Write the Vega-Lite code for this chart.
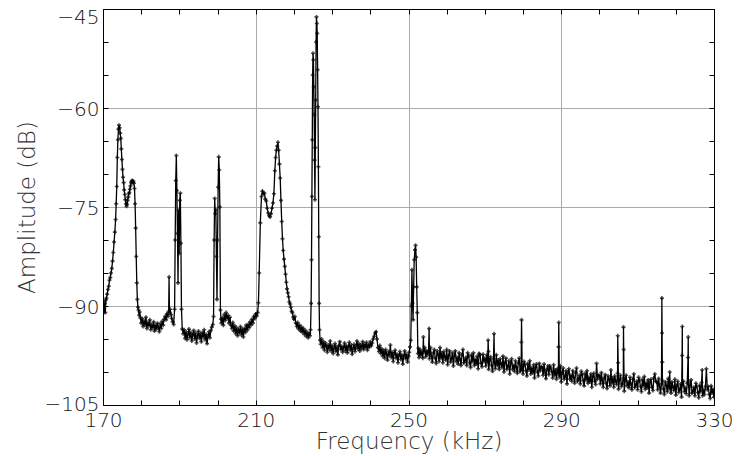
{
  "$schema": "https://vega.github.io/schema/vega-lite/v6.json",
  "width": 611,
  "height": 396,
  "autosize": "none",
  "padding": {"left": 103, "top": 9, "right": 23, "bottom": 51},
  "background": "white",
  "config": {
    "view": {"stroke": "#000", "strokeWidth": 1},
    "axis": {
      "labelFont": "DejaVu Sans",
      "labelFontWeight": 200,
      "labelFontSize": 20,
      "labelColor": "#111",
      "labelFlush": false,
      "titleFont": "DejaVu Sans",
      "titleFontWeight": 200,
      "titleFontSize": 23,
      "titleColor": "#333",
      "tickColor": "#000",
      "domainColor": "#000",
      "tickSize": -5,
      "labelOverlap": false
    }
  },
  "data": {"values": [
    {"f":170.0,"a":-90.6},{"f":170.15,"a":-89.2},{"f":170.3,"a":-90.9},{"f":170.45,"a":-89.6},{"f":170.6,"a":-91.0},{"f":170.75,"a":-89.1},{"f":170.9,"a":-88.8},{"f":171.1,"a":-88.2},{"f":171.3,"a":-87.5},{"f":171.5,"a":-87.0},{"f":171.7,"a":-86.1},{"f":171.9,"a":-85.7},{"f":172.1,"a":-85.0},{"f":172.3,"a":-84.3},{"f":172.5,"a":-83.2},{"f":172.7,"a":-81.9},{"f":172.9,"a":-80.3},{"f":173.1,"a":-78.8},{"f":173.3,"a":-76.9},{"f":173.45,"a":-74.5},{"f":173.6,"a":-71.9},{"f":173.75,"a":-67.5},{"f":173.9,"a":-64.8},{"f":174.05,"a":-63.2},{"f":174.2,"a":-62.6},{"f":174.35,"a":-63.0},{"f":174.5,"a":-63.8},{"f":174.65,"a":-64.6},{"f":174.8,"a":-66.2},{"f":174.95,"a":-67.8},{"f":175.1,"a":-69.3},{"f":175.25,"a":-70.5},{"f":175.4,"a":-71.3},{"f":175.55,"a":-72.4},{"f":175.7,"a":-73.1},{"f":175.85,"a":-73.9},{"f":176.0,"a":-74.5},{"f":176.15,"a":-74.9},{"f":176.3,"a":-74.6},{"f":176.45,"a":-74.0},{"f":176.6,"a":-73.5},{"f":176.75,"a":-73.0},{"f":176.9,"a":-72.8},{"f":177.05,"a":-72.3},{"f":177.2,"a":-71.8},{"f":177.35,"a":-71.3},{"f":177.5,"a":-71.1},{"f":177.65,"a":-71.0},{"f":177.8,"a":-71.3},{"f":177.95,"a":-71.1},{"f":178.1,"a":-71.4},{"f":178.25,"a":-72.2},{"f":178.4,"a":-74.5},{"f":178.55,"a":-78.2},{"f":178.7,"a":-82.5},{"f":178.85,"a":-86.5},{"f":179.0,"a":-89.0},{"f":179.15,"a":-90.2},{"f":179.3,"a":-90.6},{"f":179.45,"a":-91.4},{"f":179.6,"a":-90.9},
    {"f":179.8,"a":-91.8},{"f":180.0,"a":-92.6},{"f":180.25,"a":-91.9},{"f":180.5,"a":-93.1},{"f":180.75,"a":-92.2},{"f":181.0,"a":-92.9},{"f":181.25,"a":-91.7},{"f":181.5,"a":-93.4},{"f":181.75,"a":-92.5},{"f":182.0,"a":-93.0},{"f":182.25,"a":-92.1},{"f":182.5,"a":-93.6},{"f":182.75,"a":-92.8},{"f":183.0,"a":-93.3},{"f":183.25,"a":-92.4},{"f":183.5,"a":-93.8},{"f":183.75,"a":-92.9},{"f":184.0,"a":-93.5},{"f":184.25,"a":-92.6},{"f":184.5,"a":-93.2},{"f":184.75,"a":-93.9},{"f":185.0,"a":-92.7},{"f":185.25,"a":-93.4},{"f":185.5,"a":-92.3},{"f":185.75,"a":-92.9},{"f":186.0,"a":-92.0},{"f":186.25,"a":-91.6},{"f":186.5,"a":-92.1},{"f":186.75,"a":-91.2},{"f":187.0,"a":-91.6},{"f":187.2,"a":-90.8},{"f":187.3,"a":-85.6},{"f":187.4,"a":-91.0},{"f":187.6,"a":-90.5},{"f":187.8,"a":-91.3},{"f":188.0,"a":-91.9},{"f":188.25,"a":-92.4},{"f":188.5,"a":-92.8},
    {"f":188.75,"a":-90.5},{"f":188.9,"a":-80.0},{"f":189.05,"a":-71.0},{"f":189.2,"a":-67.2},{"f":189.35,"a":-72.5},{"f":189.5,"a":-79.0},{"f":189.65,"a":-86.5},{"f":189.8,"a":-75.5},{"f":189.95,"a":-82.0},{"f":190.1,"a":-74.0},{"f":190.25,"a":-72.9},{"f":190.4,"a":-80.5},{"f":190.55,"a":-90.5},{"f":190.75,"a":-93.5},
    {"f":191.0,"a":-94.2},{"f":191.25,"a":-93.6},{"f":191.5,"a":-94.9},{"f":191.75,"a":-93.9},{"f":192.0,"a":-95.1},{"f":192.25,"a":-94.3},{"f":192.5,"a":-93.5},{"f":192.75,"a":-94.8},{"f":193.0,"a":-94.0},{"f":193.25,"a":-95.3},{"f":193.5,"a":-94.4},{"f":193.75,"a":-93.7},{"f":194.0,"a":-95.0},{"f":194.25,"a":-94.1},{"f":194.5,"a":-95.6},{"f":194.75,"a":-94.5},{"f":195.0,"a":-93.8},{"f":195.25,"a":-94.9},{"f":195.5,"a":-94.2},{"f":195.75,"a":-95.4},{"f":196.0,"a":-94.0},{"f":196.25,"a":-94.7},{"f":196.5,"a":-93.6},{"f":196.75,"a":-95.1},{"f":197.0,"a":-94.3},{"f":197.25,"a":-95.7},{"f":197.5,"a":-94.6},{"f":197.75,"a":-93.9},{"f":198.0,"a":-94.8},{"f":198.25,"a":-93.7},{"f":198.5,"a":-93.2},{"f":198.75,"a":-92.8},
    {"f":198.95,"a":-91.6},{"f":199.1,"a":-80.0},{"f":199.25,"a":-73.7},{"f":199.4,"a":-76.0},{"f":199.55,"a":-75.4},{"f":199.7,"a":-82.5},{"f":199.85,"a":-89.0},{"f":200.0,"a":-80.0},{"f":200.15,"a":-72.0},{"f":200.3,"a":-67.4},{"f":200.45,"a":-69.4},{"f":200.6,"a":-75.0},{"f":200.75,"a":-90.6},{"f":200.9,"a":-92.0},
    {"f":201.0,"a":-92.6},{"f":201.25,"a":-91.8},{"f":201.5,"a":-92.9},{"f":201.75,"a":-91.3},{"f":202.0,"a":-92.2},{"f":202.25,"a":-91.0},{"f":202.5,"a":-91.9},{"f":202.75,"a":-91.4},{"f":203.0,"a":-92.6},{"f":203.25,"a":-91.7},{"f":203.5,"a":-92.9},{"f":203.75,"a":-93.4},{"f":204.0,"a":-92.5},{"f":204.25,"a":-93.8},{"f":204.5,"a":-93.0},{"f":204.75,"a":-94.2},{"f":205.0,"a":-93.3},{"f":205.25,"a":-94.5},{"f":205.5,"a":-93.6},{"f":205.75,"a":-94.0},{"f":206.0,"a":-93.1},{"f":206.25,"a":-94.4},{"f":206.5,"a":-93.5},{"f":206.75,"a":-94.7},{"f":207.0,"a":-93.4},{"f":207.25,"a":-94.0},{"f":207.5,"a":-92.9},{"f":207.75,"a":-93.7},{"f":208.0,"a":-92.8},{"f":208.25,"a":-93.3},{"f":208.5,"a":-92.4},{"f":208.75,"a":-92.9},{"f":209.0,"a":-92.0},{"f":209.25,"a":-92.6},{"f":209.5,"a":-91.6},{"f":209.75,"a":-91.9},{"f":210.0,"a":-91.2},{"f":210.25,"a":-91.5},{"f":210.5,"a":-91.0},{"f":210.7,"a":-89.5},
    {"f":210.9,"a":-85.0},{"f":211.2,"a":-77.4},{"f":211.5,"a":-73.4},{"f":211.75,"a":-72.6},{"f":212.0,"a":-73.0},{"f":212.25,"a":-72.9},{"f":212.5,"a":-73.8},{"f":212.75,"a":-74.1},{"f":213.0,"a":-75.2},{"f":213.25,"a":-75.9},{"f":213.5,"a":-76.3},{"f":213.75,"a":-76.5},{"f":214.0,"a":-76.0},{"f":214.25,"a":-75.2},{"f":214.5,"a":-74.4},{"f":214.75,"a":-73.0},{"f":215.0,"a":-69.5},{"f":215.2,"a":-67.5},{"f":215.4,"a":-66.4},{"f":215.6,"a":-65.8},{"f":215.8,"a":-65.2},{"f":216.0,"a":-66.4},{"f":216.2,"a":-68.5},{"f":216.4,"a":-70.6},{"f":216.6,"a":-74.0},{"f":216.8,"a":-77.2},{"f":217.0,"a":-79.8},{"f":217.2,"a":-81.6},{"f":217.4,"a":-82.9},{"f":217.6,"a":-84.0},{"f":217.8,"a":-85.2},{"f":218.0,"a":-86.4},{"f":218.2,"a":-87.4},{"f":218.4,"a":-88.0},{"f":218.6,"a":-88.6},{"f":218.8,"a":-89.4},{"f":219.0,"a":-89.7},{"f":219.2,"a":-90.2},{"f":219.4,"a":-90.8},{"f":219.6,"a":-91.0},{"f":219.8,"a":-91.7},{"f":220.0,"a":-92.0},{"f":220.25,"a":-91.6},{"f":220.5,"a":-92.6},{"f":220.75,"a":-93.1},{"f":221.0,"a":-92.5},{"f":221.25,"a":-93.5},{"f":221.5,"a":-92.9},{"f":221.75,"a":-93.8},{"f":222.0,"a":-93.2},{"f":222.25,"a":-94.0},{"f":222.5,"a":-93.4},{"f":222.75,"a":-94.3},{"f":223.0,"a":-93.7},{"f":223.25,"a":-94.6},{"f":223.5,"a":-94.0},{"f":223.75,"a":-94.8},{"f":224.0,"a":-94.2},{"f":224.2,"a":-94.5},{"f":224.35,"a":-93.6},
    {"f":224.5,"a":-89.6},{"f":224.6,"a":-83.0},{"f":224.7,"a":-73.4},{"f":224.8,"a":-64.8},{"f":224.9,"a":-55.0},{"f":225.0,"a":-51.7},{"f":225.1,"a":-52.7},{"f":225.2,"a":-56.8},{"f":225.3,"a":-61.0},{"f":225.4,"a":-67.9},{"f":225.5,"a":-73.9},{"f":225.6,"a":-66.0},{"f":225.7,"a":-58.8},{"f":225.8,"a":-50.0},{"f":225.9,"a":-46.2},{"f":226.0,"a":-47.2},{"f":226.1,"a":-48.7},{"f":226.2,"a":-54.2},{"f":226.3,"a":-59.8},{"f":226.4,"a":-68.9},{"f":226.5,"a":-79.5},{"f":226.6,"a":-89.6},{"f":226.7,"a":-93.6},{"f":226.85,"a":-95.2},
    {"f":227.0,"a":-95.8},{"f":227.25,"a":-95.0},{"f":227.5,"a":-96.3},{"f":227.75,"a":-95.4},{"f":228.0,"a":-96.7},{"f":228.25,"a":-95.6},{"f":228.5,"a":-96.1},{"f":228.75,"a":-97.0},{"f":229.0,"a":-95.9},{"f":229.25,"a":-96.5},{"f":229.5,"a":-95.3},{"f":229.75,"a":-96.8},{"f":230.0,"a":-96.0},{"f":230.25,"a":-97.2},{"f":230.5,"a":-96.4},{"f":230.75,"a":-95.7},{"f":231.0,"a":-96.9},{"f":231.25,"a":-96.2},{"f":231.5,"a":-97.4},{"f":231.75,"a":-96.0},{"f":232.0,"a":-95.4},{"f":232.25,"a":-96.6},{"f":232.5,"a":-96.1},{"f":232.75,"a":-97.0},{"f":233.0,"a":-96.3},{"f":233.25,"a":-95.6},{"f":233.5,"a":-96.8},{"f":233.75,"a":-96.0},{"f":234.0,"a":-97.1},{"f":234.25,"a":-96.2},{"f":234.5,"a":-95.5},{"f":234.75,"a":-96.7},{"f":235.0,"a":-95.9},{"f":235.25,"a":-97.3},{"f":235.5,"a":-96.4},{"f":235.75,"a":-95.8},{"f":236.0,"a":-96.9},{"f":236.25,"a":-96.1},{"f":236.5,"a":-95.3},{"f":236.75,"a":-96.5},{"f":237.0,"a":-95.7},{"f":237.25,"a":-96.8},{"f":237.5,"a":-95.9},{"f":237.75,"a":-96.4},{"f":238.0,"a":-95.4},{"f":238.25,"a":-96.6},{"f":238.5,"a":-95.8},{"f":238.75,"a":-96.3},{"f":239.0,"a":-95.5},{"f":239.25,"a":-96.7},{"f":239.5,"a":-95.9},{"f":239.75,"a":-96.2},{"f":240.0,"a":-95.4},{"f":240.25,"a":-96.0},{"f":240.5,"a":-95.6},{"f":240.75,"a":-95.0},{"f":241.0,"a":-94.6},{"f":241.25,"a":-94.1},{"f":241.5,"a":-93.9},{"f":241.75,"a":-95.0},{"f":242.0,"a":-96.3},{"f":242.25,"a":-96.9},{"f":242.5,"a":-96.0},{"f":242.75,"a":-97.2},{"f":243.0,"a":-96.5},{"f":243.25,"a":-97.6},{"f":243.5,"a":-96.8},{"f":243.75,"a":-97.9},{"f":244.0,"a":-96.6},{"f":244.25,"a":-97.3},{"f":244.5,"a":-98.2},{"f":244.75,"a":-96.9},{"f":245.0,"a":-97.5},{"f":245.25,"a":-95.9},{"f":245.5,"a":-97.8},{"f":245.75,"a":-97.0},{"f":246.0,"a":-98.4},{"f":246.25,"a":-97.2},{"f":246.5,"a":-96.7},{"f":246.75,"a":-97.9},{"f":247.0,"a":-97.3},{"f":247.25,"a":-98.6},{"f":247.5,"a":-97.5},{"f":247.75,"a":-96.9},{"f":248.0,"a":-98.1},{"f":248.25,"a":-97.4},{"f":248.5,"a":-98.8},{"f":248.75,"a":-97.6},{"f":249.0,"a":-96.8},{"f":249.25,"a":-98.0},{"f":249.5,"a":-97.3},{"f":249.75,"a":-98.5},{"f":250.0,"a":-97.6},{"f":250.2,"a":-97.0},
    {"f":250.4,"a":-96.2},{"f":250.6,"a":-95.2},{"f":250.75,"a":-90.0},{"f":250.9,"a":-84.5},{"f":251.05,"a":-89.6},{"f":251.2,"a":-92.1},{"f":251.35,"a":-87.1},{"f":251.5,"a":-83.0},{"f":251.7,"a":-81.5},{"f":251.85,"a":-80.8},{"f":252.0,"a":-82.6},{"f":252.15,"a":-87.1},{"f":252.3,"a":-91.0},{"f":252.45,"a":-97.2},
    {"f":252.6,"a":-96.4},{"f":252.75,"a":-97.8},{"f":253.0,"a":-96.6},{"f":253.25,"a":-97.5},{"f":253.5,"a":-96.9},{"f":253.75,"a":-97.9},{"f":253.9,"a":-94.7},{"f":254.0,"a":-97.0},{"f":254.25,"a":-96.3},{"f":254.5,"a":-97.7},{"f":254.75,"a":-96.8},{"f":255.0,"a":-97.4},{"f":255.25,"a":-96.8},{"f":255.4,"a":-93.4},{"f":255.5,"a":-98.0},{"f":255.75,"a":-96.3},
    {"f":256.0,"a":-97.6},{"f":256.25,"a":-98.5},{"f":256.5,"a":-97.1},{"f":256.75,"a":-96.6},{"f":257.0,"a":-97.9},{"f":257.25,"a":-98.7},{"f":257.5,"a":-96.8},{"f":257.75,"a":-97.3},{"f":258.0,"a":-98.4},{"f":258.25,"a":-96.3},{"f":258.5,"a":-97.9},{"f":258.75,"a":-97.1},{"f":259.0,"a":-98.6},{"f":259.25,"a":-96.9},{"f":259.5,"a":-97.7},{"f":259.75,"a":-98.2},{"f":260.0,"a":-96.6},{"f":260.25,"a":-98.9},{"f":260.5,"a":-97.5},{"f":260.75,"a":-96.8},{"f":261.0,"a":-98.5},{"f":261.25,"a":-98.0},{"f":261.5,"a":-97.1},{"f":261.75,"a":-99.1},{"f":262.0,"a":-97.5},{"f":262.25,"a":-96.8},{"f":262.5,"a":-98.4},{"f":262.75,"a":-97.8},{"f":263.0,"a":-98.8},{"f":263.25,"a":-97.1},{"f":263.5,"a":-98.1},{"f":263.75,"a":-99.0},{"f":264.0,"a":-97.4},{"f":264.25,"a":-96.6},{"f":264.5,"a":-98.6},{"f":264.75,"a":-98.3},{"f":265.0,"a":-97.8},{"f":265.25,"a":-99.0},{"f":265.5,"a":-97.1},{"f":265.75,"a":-97.6},{"f":266.0,"a":-98.6},{"f":266.25,"a":-99.3},{"f":266.5,"a":-97.4},{"f":266.75,"a":-98.4},{"f":267.0,"a":-97.1},{"f":267.25,"a":-99.0},{"f":267.5,"a":-98.1},{"f":267.75,"a":-98.8},{"f":268.0,"a":-97.6},{"f":268.25,"a":-99.5},{"f":268.5,"a":-97.2},{"f":268.75,"a":-97.4},{"f":269.0,"a":-98.7},{"f":269.25,"a":-99.2},{"f":269.5,"a":-97.3},{"f":269.75,"a":-98.4},{"f":270.0,"a":-97.9},{"f":270.25,"a":-99.1},{"f":270.5,"a":-97.4},{"f":270.75,"a":-98.6},{"f":270.85,"a":-95.2},{"f":270.95,"a":-96.9},{"f":271.0,"a":-99.6},{"f":271.25,"a":-98.2},{"f":271.5,"a":-97.7},{"f":271.75,"a":-99.0},{"f":272.0,"a":-99.9},{"f":272.25,"a":-98.0},{"f":272.4,"a":-94.2},{"f":272.5,"a":-98.5},{"f":272.75,"a":-99.5},{"f":273.0,"a":-97.4},{"f":273.25,"a":-99.0},{"f":273.5,"a":-98.2},{"f":273.75,"a":-99.6},{"f":274.0,"a":-98.0},{"f":274.25,"a":-98.8},{"f":274.5,"a":-99.3},{"f":274.75,"a":-97.6},{"f":275.0,"a":-100.0},{"f":275.25,"a":-98.6},{"f":275.5,"a":-97.9},{"f":275.75,"a":-99.6},{"f":276.0,"a":-99.2},{"f":276.25,"a":-98.3},{"f":276.5,"a":-100.3},{"f":276.75,"a":-98.6},{"f":277.0,"a":-98.0},{"f":277.25,"a":-99.6},{"f":277.5,"a":-99.0},{"f":277.75,"a":-99.9},{"f":278.0,"a":-98.3},{"f":278.25,"a":-99.3},{"f":278.5,"a":-100.2},{"f":278.75,"a":-98.6},{"f":279.0,"a":-97.9},{"f":279.25,"a":-99.9},{"f":279.5,"a":-99.6},{"f":279.55,"a":-95.5},{"f":279.6,"a":-92.1},{"f":279.75,"a":-99.0},{"f":280.0,"a":-100.3},{"f":280.25,"a":-98.4},{"f":280.5,"a":-98.9},{"f":280.75,"a":-99.8},{"f":281.0,"a":-100.6},{"f":281.25,"a":-98.7},{"f":281.5,"a":-99.7},{"f":281.75,"a":-98.3},{"f":282.0,"a":-100.3},{"f":282.25,"a":-99.4},{"f":282.5,"a":-100.1},{"f":282.75,"a":-98.9},{"f":283.0,"a":-100.9},{"f":283.25,"a":-99.3},{"f":283.5,"a":-98.8},{"f":283.75,"a":-100.0},{"f":284.0,"a":-100.6},{"f":284.25,"a":-98.7},{"f":284.5,"a":-99.8},{"f":284.75,"a":-99.2},{"f":285.0,"a":-99.3},{"f":285.25,"a":-100.5},{"f":285.5,"a":-98.8},{"f":285.75,"a":-100.0},{"f":286.0,"a":-101.0},{"f":286.25,"a":-99.6},{"f":286.5,"a":-99.1},{"f":286.75,"a":-100.4},{"f":287.0,"a":-99.1},{"f":287.25,"a":-99.4},{"f":287.5,"a":-99.9},{"f":287.75,"a":-100.9},{"f":288.0,"a":-98.9},{"f":288.25,"a":-100.5},{"f":288.5,"a":-99.7},{"f":288.75,"a":-101.1},{"f":289.0,"a":-99.5},{"f":289.25,"a":-100.3},{"f":289.3,"a":-96.2},{"f":289.35,"a":-92.5},{"f":289.5,"a":-100.8},{"f":289.75,"a":-99.1},{"f":290.0,"a":-101.5},{"f":290.25,"a":-100.1},{"f":290.5,"a":-99.4},{"f":290.75,"a":-101.1},{"f":291.0,"a":-100.7},{"f":291.25,"a":-99.8},{"f":291.5,"a":-101.8},{"f":291.75,"a":-100.1},{"f":292.0,"a":-99.5},{"f":292.25,"a":-101.1},{"f":292.5,"a":-100.5},{"f":292.75,"a":-101.4},{"f":293.0,"a":-99.8},{"f":293.25,"a":-100.8},{"f":293.5,"a":-101.7},{"f":293.75,"a":-100.1},{"f":294.0,"a":-99.4},{"f":294.25,"a":-101.4},{"f":294.5,"a":-101.1},{"f":294.75,"a":-100.5},{"f":295.0,"a":-101.8},{"f":295.25,"a":-99.9},{"f":295.5,"a":-100.4},{"f":295.75,"a":-101.3},{"f":296.0,"a":-102.1},{"f":296.25,"a":-100.2},{"f":296.5,"a":-101.2},{"f":296.75,"a":-99.8},{"f":297.0,"a":-101.7},{"f":297.25,"a":-100.8},{"f":297.5,"a":-101.5},{"f":297.75,"a":-100.3},{"f":298.0,"a":-102.3},{"f":298.25,"a":-100.7},{"f":298.5,"a":-100.2},{"f":298.75,"a":-101.4},{"f":299.0,"a":-101.9},{"f":299.25,"a":-98.7},{"f":299.5,"a":-101.1},{"f":299.75,"a":-100.5},{"f":300.0,"a":-100.6},{"f":300.25,"a":-101.8},{"f":300.5,"a":-100.1},{"f":300.75,"a":-101.3},{"f":301.0,"a":-102.3},{"f":301.25,"a":-100.9},{"f":301.5,"a":-100.4},{"f":301.75,"a":-101.7},{"f":302.0,"a":-102.5},{"f":302.25,"a":-100.6},{"f":302.5,"a":-101.1},{"f":302.75,"a":-102.1},{"f":303.0,"a":-99.7},{"f":303.25,"a":-101.7},{"f":303.5,"a":-100.9},{"f":303.75,"a":-102.3},{"f":304.0,"a":-100.6},{"f":304.25,"a":-101.4},{"f":304.5,"a":-101.9},{"f":304.75,"a":-100.2},{"f":304.8,"a":-94.5},{"f":304.9,"a":-98.6},{"f":305.0,"a":-102.6},{"f":305.25,"a":-101.2},{"f":305.5,"a":-100.5},{"f":305.75,"a":-102.2},{"f":306.0,"a":-101.8},{"f":306.25,"a":-100.9},{"f":306.3,"a":-93.2},{"f":306.35,"a":-96.6},{"f":306.5,"a":-102.9},{"f":306.75,"a":-101.2},{"f":307.0,"a":-100.5},{"f":307.25,"a":-102.1},{"f":307.5,"a":-101.5},{"f":307.75,"a":-102.4},{"f":308.0,"a":-100.8},{"f":308.25,"a":-101.8},{"f":308.5,"a":-102.7},{"f":308.75,"a":-101.1},{"f":309.0,"a":-100.3},{"f":309.25,"a":-102.3},{"f":309.5,"a":-102.0},{"f":309.75,"a":-101.4},{"f":310.0,"a":-102.7},{"f":310.25,"a":-100.8},{"f":310.5,"a":-101.3},{"f":310.75,"a":-102.2},{"f":311.0,"a":-103.0},{"f":311.25,"a":-101.1},{"f":311.5,"a":-102.1},{"f":311.75,"a":-100.7},{"f":312.0,"a":-102.6},{"f":312.25,"a":-101.7},{"f":312.5,"a":-102.4},{"f":312.75,"a":-101.2},{"f":313.0,"a":-103.2},{"f":313.25,"a":-101.6},{"f":313.5,"a":-101.1},{"f":313.75,"a":-102.3},{"f":314.0,"a":-102.8},{"f":314.25,"a":-100.9},{"f":314.5,"a":-100.3},{"f":314.75,"a":-101.4},{"f":315.0,"a":-101.5},{"f":315.25,"a":-102.7},{"f":315.5,"a":-101.0},{"f":315.75,"a":-102.2},{"f":316.0,"a":-103.2},{"f":316.25,"a":-101.8},{"f":316.35,"a":-88.8},{"f":316.4,"a":-94.1},{"f":316.45,"a":-98.5},{"f":316.5,"a":-101.3},{"f":316.75,"a":-102.6},{"f":317.0,"a":-103.4},{"f":317.25,"a":-101.5},{"f":317.5,"a":-102.0},{"f":317.75,"a":-103.0},{"f":318.0,"a":-101.0},{"f":318.25,"a":-102.6},{"f":318.4,"a":-100.0},{"f":318.5,"a":-101.8},{"f":318.75,"a":-103.2},{"f":319.0,"a":-101.5},{"f":319.25,"a":-102.3},{"f":319.5,"a":-102.8},{"f":319.75,"a":-101.1},{"f":320.0,"a":-103.5},{"f":320.25,"a":-102.1},{"f":320.5,"a":-101.4},{"f":320.75,"a":-103.1},{"f":321.0,"a":-102.7},{"f":321.25,"a":-101.8},{"f":321.5,"a":-103.8},{"f":321.65,"a":-97.5},{"f":321.7,"a":-93.1},{"f":321.75,"a":-102.1},{"f":322.0,"a":-101.4},{"f":322.25,"a":-103.0},{"f":322.5,"a":-102.4},{"f":322.75,"a":-103.3},{"f":323.0,"a":-101.7},{"f":323.2,"a":-97.8},{"f":323.25,"a":-94.7},{"f":323.3,"a":-101.5},{"f":323.5,"a":-103.6},{"f":323.75,"a":-102.0},{"f":324.0,"a":-101.2},{"f":324.25,"a":-103.2},{"f":324.5,"a":-102.9},{"f":324.75,"a":-102.3},{"f":325.0,"a":-103.6},{"f":325.25,"a":-101.7},{"f":325.5,"a":-102.2},{"f":325.75,"a":-103.1},{"f":326.0,"a":-103.9},{"f":326.25,"a":-102.0},{"f":326.5,"a":-103.0},{"f":326.75,"a":-101.6},{"f":326.9,"a":-99.7},{"f":327.0,"a":-103.6},{"f":327.25,"a":-102.7},{"f":327.5,"a":-103.4},{"f":327.75,"a":-102.2},{"f":328.0,"a":-99.5},{"f":328.25,"a":-102.7},{"f":328.5,"a":-102.2},{"f":328.75,"a":-103.4},{"f":329.0,"a":-104.0},{"f":329.25,"a":-102.1},{"f":329.5,"a":-103.2},{"f":329.75,"a":-102.6},{"f":330.0,"a":-103.8}
  ]},
  "layer": [
    {
      "mark": {"type": "line", "color": "#000", "strokeWidth": 1.3, "clip": true},
      "encoding": {
        "x": {"field": "f", "type": "quantitative", "scale": {"domain": [170, 330], "nice": false, "zero": false},
          "axis": {"orient": "bottom", "values": [170,180,190,200,210,220,230,240,250,260,270,280,290,300,310,320,330],
            "labelExpr": "datum.value % 40 == 10 ? datum.label : ''", "labelPadding": 10,
            "grid": true, "gridColor": {"condition": {"test": "datum.value % 40 == 10", "value": "#aaa"}, "value": "transparent"},
            "title": "Frequency (kHz)", "titlePadding": 0}},
        "y": {"field": "a", "type": "quantitative", "scale": {"domain": [-105, -45], "nice": false, "zero": false},
          "axis": {"orient": "left", "values": [-105,-100,-95,-90,-85,-80,-75,-70,-65,-60,-55,-50,-45],
            "labelExpr": "datum.value % 15 == 0 ? datum.label : ''", "labelPadding": 9,
            "labelOffset": {"condition": [{"test": "datum.value == -45", "value": 8}, {"test": "datum.value == -105", "value": -1}], "value": 1},
            "grid": true, "gridColor": {"condition": {"test": "datum.value % 15 == 0", "value": "#aaa"}, "value": "transparent"},
            "title": "Amplitude (dB)", "titlePadding": 5}}
      }
    },
    {
      "mark": {"type": "point", "shape": "cross", "size": 16, "filled": true, "color": "#000", "clip": true},
      "encoding": {
        "x": {"field": "f", "type": "quantitative",
          "axis": {"orient": "top", "values": [170,180,190,200,210,220,230,240,250,260,270,280,290,300,310,320,330], "labels": false, "grid": false, "title": null}},
        "y": {"field": "a", "type": "quantitative",
          "axis": {"orient": "right", "values": [-105,-100,-95,-90,-85,-80,-75,-70,-65,-60,-55,-50,-45], "labels": false, "grid": false, "title": null}}
      }
    }
  ],
  "resolve": {"axis": {"x": "independent", "y": "independent"}}
}
